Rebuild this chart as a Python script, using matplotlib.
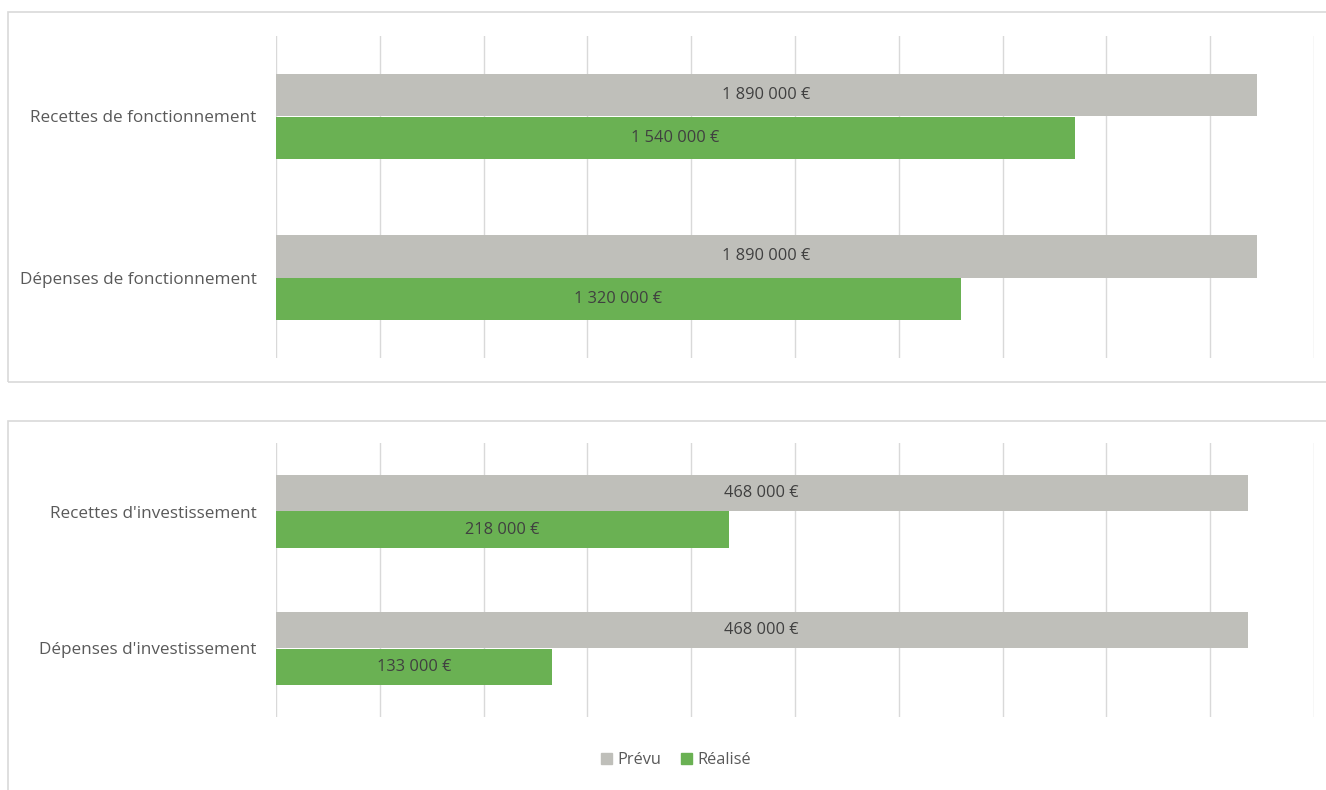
import numpy as np
import matplotlib
matplotlib.use("Agg")
import matplotlib.pyplot as plt
from matplotlib.patches import Rectangle, Patch

# Data
cats_fonct = ["Recettes de fonctionnement", "Dépenses de fonctionnement"]
prevu_fonct = [1890000, 1890000]
realise_fonct = [1540000, 1320000]

cats_invest = ["Recettes d'investissement", "Dépenses d'investissement"]
prevu_invest = [468000, 468000]
realise_invest = [218000, 133000]

series_names = ["Prévu", "Réalisé"]

GREY = "#BFBFBA"
GREEN = "#6AB153"
GRID = "#D9D9D9"
LABEL = "#595959"
VALUE = "#404040"

plt.rcParams['font.family'] = ['Open Sans', 'DejaVu Sans']

W, H = 1326, 790


def fmt(v):
    return "{:,}".format(v).replace(",", " ") + " €"


def draw_panel(ax, cats, prevu, realise, xmax, step):
    y = np.arange(len(cats))
    h = 0.264
    b1 = ax.barh(y - h / 2, prevu, height=h, color=GREY)
    b2 = ax.barh(y + h / 2, realise, height=h, color=GREEN)
    for bars, vals in ((b1, prevu), (b2, realise)):
        for bar, v in zip(bars, vals):
            ax.text(v / 2, bar.get_y() + bar.get_height() / 2, fmt(v),
                    ha="center", va="center", fontsize=11.8, color=VALUE)
    ax.set_xlim(0, xmax)
    ax.set_ylim(len(cats) - 0.5, -0.5)
    ax.set_xticks(np.arange(0, xmax + 1, step))
    ax.xaxis.grid(True, color=GRID, linewidth=1)
    ax.set_axisbelow(True)
    ax.set_yticks(y)
    ax.set_yticklabels(cats, fontsize=12.3, color=LABEL)
    ax.tick_params(axis="y", length=0, pad=14)
    ax.tick_params(axis="x", length=0, labelbottom=False)
    for s in ax.spines.values():
        s.set_visible(False)


fig = plt.figure(figsize=(W / 100, H / 100), dpi=100)

# outer boxes
fig.patches.append(Rectangle((8 / W, 1 - 382 / H), 1.2, (382 - 12) / H,
                             transform=fig.transFigure, fill=False,
                             edgecolor=GRID, linewidth=1.2))
fig.patches.append(Rectangle((8 / W, -0.1), 1.2, 0.1 + 1 - 421 / H,
                             transform=fig.transFigure, fill=False,
                             edgecolor=GRID, linewidth=1.2))

ax1 = fig.add_axes([276 / W, 1 - 358 / H, (1314 - 276) / W, (358 - 36) / H])
draw_panel(ax1, cats_fonct, prevu_fonct, realise_fonct, 2000000, 200000)

ax2 = fig.add_axes([276 / W, 1 - 717 / H, (1314 - 276) / W, (717 - 443) / H])
draw_panel(ax2, cats_invest, prevu_invest, realise_invest, 500000, 50000)

handles = [Patch(color=GREY), Patch(color=GREEN)]
leg = fig.legend(handles, series_names, loc="center", bbox_to_anchor=(676 / W, 1 - 760 / H),
                 ncol=2, frameon=False, fontsize=11.8, handlelength=0.7, handleheight=0.7,
                 handletextpad=0.3, columnspacing=1.2)
for t in leg.get_texts():
    t.set_color(LABEL)

fig.savefig("out.png", dpi=100)
